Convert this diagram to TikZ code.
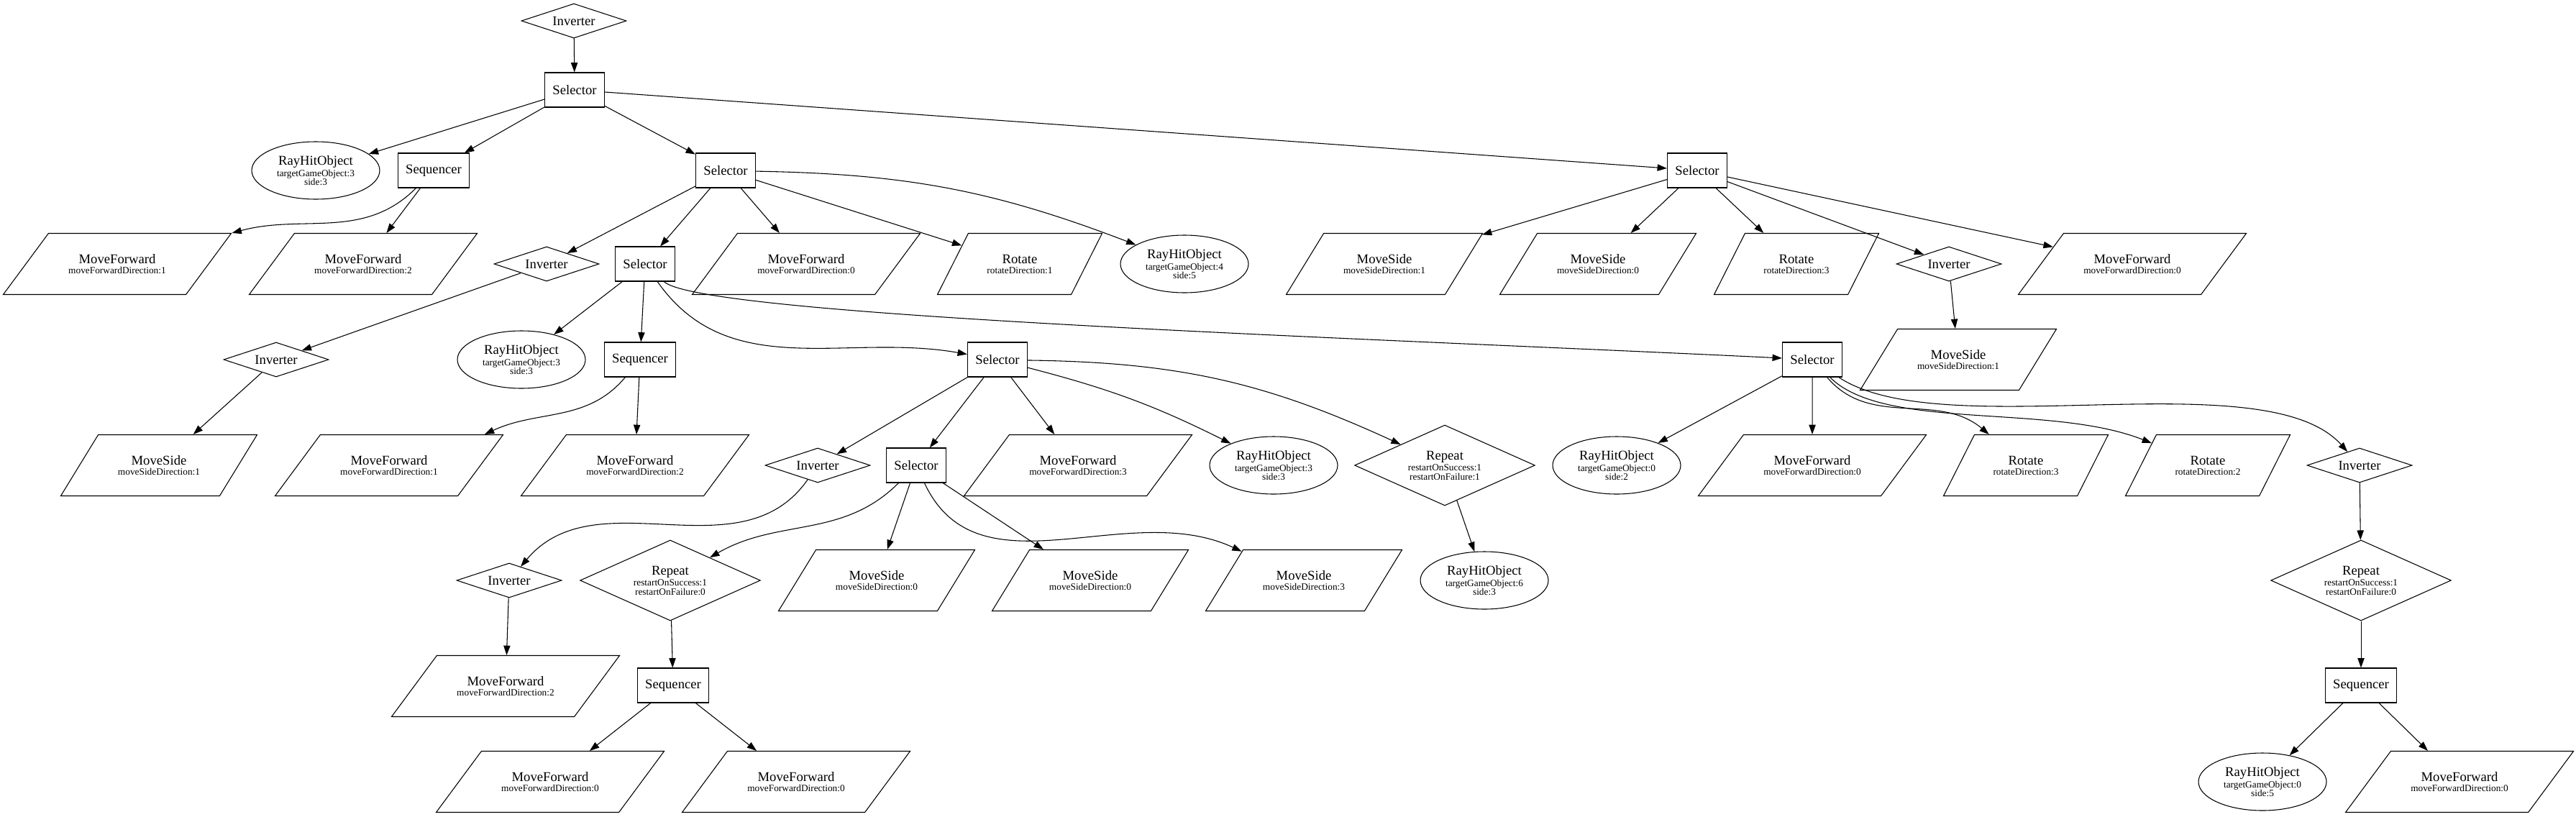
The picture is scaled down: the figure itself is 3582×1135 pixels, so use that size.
\documentclass[tikz,border=0pt]{standalone}
\usepackage{fontspec}
\setmainfont{Liberation Serif}
\usepackage{tikz}
\usetikzlibrary{arrows.meta, shapes.geometric}

\newcommand{\nattr}[1]{{\fontsize{10}{12}\selectfont #1}}
\newcommand{\acttext}[2]{\vbox to 63.75pt{\vss\halign{\hfil##\hfil\cr#1\cr\noalign{\vskip-1.5pt}\nattr{#2}\cr}\vss}}

\begin{document}
\begin{tikzpicture}[x=0.75pt, y=0.75pt,
    every node/.style={font=\fontsize{14}{12}\selectfont},
    sel/.style={draw, rectangle, minimum height=36pt, inner xsep=8.25pt, inner ysep=0pt, line width=0.8pt},
    inv/.style={draw, diamond, shape aspect=3, minimum width=109.5pt, minimum height=36pt, inner sep=0pt, line width=0.8pt},
    rpt/.style={draw, diamond, shape aspect=2.2, minimum width=188pt, minimum height=84pt, inner sep=0pt, align=center, line width=0.8pt},
    ray/.style={draw, ellipse, minimum width=133.5pt, minimum height=60pt, inner sep=0pt, align=center, line width=0.8pt},
    act/.style={draw, trapezium, trapezium stretches body, minimum height=63.75pt, inner sep=0pt, line width=0.8pt},
    mfwd/.style={act, minimum width=237.75pt, trapezium left angle=53.5, trapezium right angle=126.5},
    mside/.style={act, minimum width=204.75pt, trapezium left angle=58.5, trapezium right angle=121.5},
    rot/.style={act, minimum width=171.75pt, trapezium left angle=63.2, trapezium right angle=116.8},
    edge/.style={-{Triangle[length=10pt,width=7pt]}, line width=0.8pt}]
    \useasboundingbox (0,0) rectangle (3582,-1135);

    % Level 0
    \node[inv] (inv0) at (798,-29) {Inverter};

    % Level 1
    \node[sel] (sel0) at (799,-125) {Selector};

    % Level 2
    \node[ray] (ray1) at (439,-237) {RayHitObject\\\nattr{targetGameObject:3}\\[-2.8pt]\nattr{side:3}};
    \node[sel] (seq1) at (603,-237) {Sequencer};
    \node[sel] (sel1) at (1009,-237) {Selector};
    \node[sel] (sel2) at (2360,-237) {Selector};

    % Level 3
    \node[mfwd] (mf1) at (163,-367) {\acttext{MoveForward}{moveForwardDirection:1}};
    \node[mfwd] (mf2) at (505,-367) {\acttext{MoveForward}{moveForwardDirection:2}};
    \node[inv] (inv1) at (760,-367) {Inverter};
    \node[sel] (sel3) at (897,-367) {Selector};
    \node[mfwd] (mf3) at (1121,-367) {\acttext{MoveForward}{moveForwardDirection:0}};
    \node[rot] (rot1) at (1418,-367) {\acttext{Rotate}{rotateDirection:1}};
    \node[ray] (ray2) at (1647,-367) {RayHitObject\\\nattr{targetGameObject:4}\\[-2.8pt]\nattr{side:5}};
    \node[mside] (ms1) at (1925,-367) {\acttext{MoveSide}{moveSideDirection:1}};
    \node[mside] (ms2) at (2222,-367) {\acttext{MoveSide}{moveSideDirection:0}};
    \node[rot] (rot2) at (2498,-367) {\acttext{Rotate}{rotateDirection:3}};
    \node[inv] (inv2) at (2710,-367) {Inverter};
    \node[mfwd] (mf4) at (2965,-367) {\acttext{MoveForward}{moveForwardDirection:0}};

    % Level 4
    \node[inv] (inv3) at (384,-500) {Inverter};
    \node[ray] (ray3) at (725,-500) {RayHitObject\\\nattr{targetGameObject:3}\\[-2.8pt]\nattr{side:3}};
    \node[sel] (seq2) at (890,-500) {Sequencer};
    \node[sel] (sel4) at (1387,-500) {Selector};
    \node[sel] (sel6) at (2520,-500) {Selector};
    \node[mside] (ms3) at (2723,-500) {\acttext{MoveSide}{moveSideDirection:1}};

    % Level 5
    \node[mside] (ms4) at (221,-647) {\acttext{MoveSide}{moveSideDirection:1}};
    \node[mfwd] (mf5) at (541,-647) {\acttext{MoveForward}{moveForwardDirection:1}};
    \node[mfwd] (mf6) at (883,-647) {\acttext{MoveForward}{moveForwardDirection:2}};
    \node[inv] (inv4) at (1137,-647) {Inverter};
    \node[sel] (sel5) at (1274,-647) {Selector};
    \node[mfwd] (mf7) at (1499,-647) {\acttext{MoveForward}{moveForwardDirection:3}};
    \node[ray] (ray4) at (1771,-647) {RayHitObject\\\nattr{targetGameObject:3}\\[-2.8pt]\nattr{side:3}};
    \node[rpt] (rep1) at (2009,-647) {Repeat\\[-0.75pt]\nattr{restartOnSuccess:1}\\[-2.25pt]\nattr{restartOnFailure:1}};
    \node[ray] (ray5) at (2248,-647) {RayHitObject\\\nattr{targetGameObject:0}\\[-2.8pt]\nattr{side:2}};
    \node[mfwd] (mf8) at (2520,-647) {\acttext{MoveForward}{moveForwardDirection:0}};
    \node[rot] (rot3) at (2817,-647) {\acttext{Rotate}{rotateDirection:3}};
    \node[rot] (rot4) at (3070,-647) {\acttext{Rotate}{rotateDirection:2}};
    \node[inv] (inv5) at (3281,-647) {Inverter};

    % Level 6
    \node[inv] (inv6) at (708,-807) {Inverter};
    \node[rpt] (rep2) at (932,-807) {Repeat\\[-0.75pt]\nattr{restartOnSuccess:1}\\[-2.25pt]\nattr{restartOnFailure:0}};
    \node[mside] (ms5) at (1219,-807) {\acttext{MoveSide}{moveSideDirection:0}};
    \node[mside] (ms6) at (1516,-807) {\acttext{MoveSide}{moveSideDirection:0}};
    \node[mside] (ms7) at (1813,-807) {\acttext{MoveSide}{moveSideDirection:3}};
    \node[ray] (ray6) at (2064,-807) {RayHitObject\\\nattr{targetGameObject:6}\\[-2.8pt]\nattr{side:3}};
    \node[rpt] (rep3) at (3283,-807) {Repeat\\[-0.75pt]\nattr{restartOnSuccess:1}\\[-2.25pt]\nattr{restartOnFailure:0}};

    % Level 7
    \node[mfwd] (mf9) at (703,-954) {\acttext{MoveForward}{moveForwardDirection:2}};
    \node[sel] (seq3) at (936,-953) {Sequencer};
    \node[sel] (seq4) at (3283,-953) {Sequencer};

    % Level 8
    \node[mfwd] (mf10) at (765,-1087) {\acttext{MoveForward}{moveForwardDirection:0}};
    \node[mfwd] (mf11) at (1107,-1087) {\acttext{MoveForward}{moveForwardDirection:0}};
    \node[ray] (ray7) at (3146,-1087) {RayHitObject\\\nattr{targetGameObject:0}\\[-2.8pt]\nattr{side:5}};
    \node[mfwd] (mf12) at (3420,-1087) {\acttext{MoveForward}{moveForwardDirection:0}};

    % Edges
    \draw[edge] (inv0) -- (sel0);
    \draw[edge] (sel0) -- (ray1);
    \draw[edge] (sel0) -- (seq1);
    \draw[edge] (sel0) -- (sel1);
    \draw[edge] (sel0) -- (sel2);
    \draw[edge] (seq1) to[out=-135, in=15] (mf1.top right corner);
    \draw[edge] (seq1) -- (mf2);
    \draw[edge] (sel1) -- (inv1);
    \draw[edge] (sel1) -- (sel3);
    \draw[edge] (sel1) -- (mf3);
    \draw[edge] (sel1) -- (rot1);
    \draw[edge] (sel1) to[bend left=10] (ray2);
    \draw[edge] (sel2) -- (ms1);
    \draw[edge] (sel2) -- (ms2);
    \draw[edge] (sel2) -- (rot2);
    \draw[edge] (sel2) -- (inv2);
    \draw[edge] (sel2) -- (mf4);
    \draw[edge] (inv2) -- (ms3);
    \draw[edge] (inv1) -- (inv3);
    \draw[edge] (inv3) -- (ms4);
    \draw[edge] (sel3) -- (ray3);
    \draw[edge] (sel3) -- (seq2);
    \draw[edge] (sel3) to[out=-55, in=170] (sel4);
    \draw[edge] (sel3) .. controls (975,-440) and (1900,-470) .. (sel6);
    \draw[edge] (seq2) to[out=-130, in=25] ([xshift=-20pt]mf5.top right corner);
    \draw[edge] (seq2) -- (mf6);
    \draw[edge] (sel4) -- (inv4);
    \draw[edge] (sel4) -- (sel5);
    \draw[edge] (sel4) -- (mf7);
    \draw[edge] (sel4) to[bend left=6] (ray4);
    \draw[edge] (sel4) to[bend left=12] (rep1);
    \draw[edge] (rep1) -- (ray6);
    \draw[edge] (inv4) to[out=-125, in=50] (inv6);
    \draw[edge] (inv6) -- (mf9);
    \draw[edge] (sel5) to[out=-135, in=30] (rep2);
    \draw[edge] (sel5) -- (ms5);
    \draw[edge] (sel5) -- (ms6);
    \draw[edge] (sel5) to[out=-65, in=155] (ms7);
    \draw[edge] (rep2) -- (seq3);
    \draw[edge] (seq3) -- (mf10);
    \draw[edge] (seq3) -- (mf11);
    \draw[edge] (sel6) -- (ray5);
    \draw[edge] (sel6) -- (mf8);
    \draw[edge] (sel6) to[out=-50, in=140] (rot3);
    \draw[edge] (sel6) .. controls (2620,-600) and (2850,-560) .. (rot4);
    \draw[edge] (sel6) .. controls (2700,-620) and (3150,-500) .. (inv5);
    \draw[edge] (inv5) -- (rep3);
    \draw[edge] (rep3) -- (seq4);
    \draw[edge] (seq4) -- (ray7);
    \draw[edge] (seq4) -- (mf12);
\end{tikzpicture}
\end{document}
